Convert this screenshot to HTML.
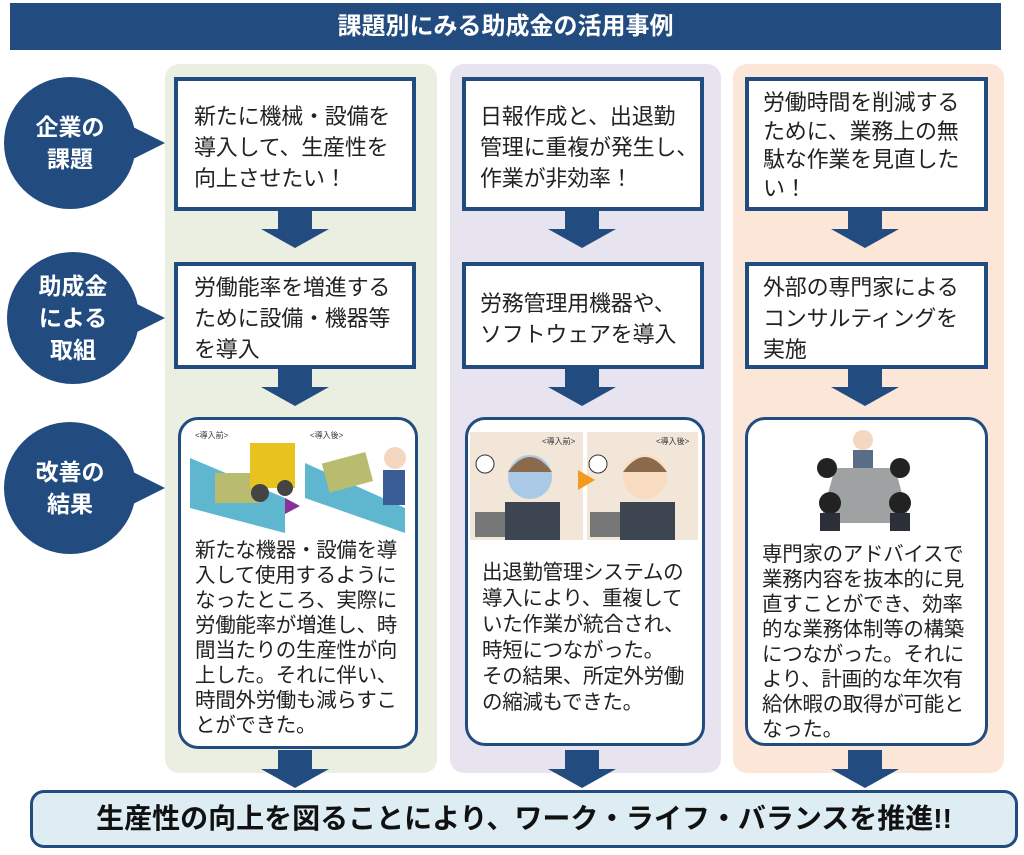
<!DOCTYPE html>
<html><head><meta charset="utf-8"><style>
*{margin:0;padding:0;box-sizing:border-box}
body{width:1024px;height:855px;background:#fff;position:relative;overflow:hidden;font-family:"Liberation Sans","Noto Sans CJK JP",sans-serif;color:#222}
.a{position:absolute}
.title{left:10px;top:3px;width:991px;height:47px;background:#224b80;color:#fff;font-weight:bold;font-size:24px;text-align:center;line-height:47px}
.col{top:64px;height:709px;border-radius:14px}
.box{border:4px solid #224b80;background:#fff;font-size:22px;line-height:31px;padding:10px 0 0 14px;white-space:nowrap;letter-spacing:-0.2px}
.rbox{border:3px solid #224b80;background:#fff;border-radius:20px;font-size:20.5px;line-height:25px;padding-left:14px;white-space:nowrap;letter-spacing:-0.3px}
.circ{width:132px;height:132px;border-radius:50%;background:#224b80;color:#fff;font-weight:bold;font-size:23px;line-height:32px;text-align:center;display:flex;align-items:center;justify-content:center}
.tail{width:0;height:0;border-top:20px solid transparent;border-bottom:20px solid transparent;border-left:40px solid #224b80}
</style></head><body>
<div class="a title">課題別にみる助成金の活用事例</div>
<div class="a col" style="left:165px;width:272px;background:#ebefe1"></div>
<div class="a col" style="left:450px;width:271px;background:#e7e3ef"></div>
<div class="a col" style="left:733px;width:271px;background:#fbe6d7"></div>

<div class="a tail" style="left:125px;top:123px"></div>
<div class="a circ" style="left:4px;top:77px">企業の<br>課題</div>
<div class="a tail" style="left:125px;top:298px"></div>
<div class="a circ" style="left:7px;top:252px">助成金<br>による<br>取組</div>
<div class="a tail" style="left:125px;top:468px"></div>
<div class="a circ" style="left:4px;top:422px">改善の<br>結果</div>

<svg class="a" style="left:0;top:0" width="1024" height="855">
<g fill="#224b80">
<path id="ar" d="M-17 0h34v19h17l-34 19l-34-19h17z" transform="translate(295,210)"/>
<use href="#ar" transform="translate(0,158)"/>
<use href="#ar" transform="translate(0,540)"/>
<use href="#ar" transform="translate(287,0)"/>
<use href="#ar" transform="translate(287,158)"/>
<use href="#ar" transform="translate(287,540)"/>
<use href="#ar" transform="translate(570,0)"/>
<use href="#ar" transform="translate(570,158)"/>
<use href="#ar" transform="translate(570,540)"/>
</g>
</svg>

<div class="a box" style="left:174px;top:77px;width:242px;height:134px;padding-top:20px;padding-left:16px">新たに機械・設備を<br>導入して、生産性を<br>向上させたい！</div>
<div class="a box" style="left:462px;top:77px;width:242px;height:134px;padding-top:20px">日報作成と、出退勤<br>管理に重複が発生し、<br>作業が非効率！</div>
<div class="a box" style="left:745px;top:77px;width:243px;height:134px;padding-top:8px;line-height:28.5px">労働時間を削減する<br>ために、業務上の無<br>駄な作業を見直した<br>い！</div>

<div class="a box" style="left:174px;top:262px;width:242px;height:107px;padding-top:6px;padding-left:16px">労働能率を増進する<br>ために設備・機器等<br>を導入</div>
<div class="a box" style="left:462px;top:262px;width:242px;height:107px;padding-top:22px">労務管理用機器や、<br>ソフトウェアを導入</div>
<div class="a box" style="left:745px;top:262px;width:243px;height:107px;padding-top:6px">外部の専門家による<br>コンサルティングを<br>実施</div>

<div class="a rbox" style="left:178px;top:417px;width:240px;height:332px;padding-top:118px">新たな機器・設備を導<br>入して使用するように<br>なったところ、実際に<br>労働能率が増進し、時<br>間当たりの生産性が向<br>上した。それに伴い、<br>時間外労働も減らすこ<br>とができた。</div>
<div class="a rbox" style="left:465px;top:417px;width:240px;height:329px;padding-top:140px;line-height:26px">出退勤管理システムの<br>導入により、重複して<br>いた作業が統合され、<br>時短につながった。<br>その結果、所定外労働<br>の縮減もできた。</div>
<div class="a rbox" style="left:745px;top:417px;width:243px;height:329px;padding-top:122px">専門家のアドバイスで<br>業務内容を抜本的に見<br>直すことができ、効率<br>的な業務体制等の構築<br>につながった。それに<br>より、計画的な年次有<br>給休暇の取得が可能と<br>なった。</div>

<svg class="a" style="left:185px;top:428px" width="225" height="105">
<text x="10" y="10" font-size="8" fill="#333">&lt;導入前&gt;</text>
<text x="125" y="10" font-size="8" fill="#333">&lt;導入後&gt;</text>
<polygon points="5,30 100,70 100,105 5,80" fill="#5fb7cf"/>
<polygon points="120,35 220,80 220,105 120,70" fill="#5fb7cf"/>
<rect x="30" y="45" width="45" height="30" fill="#b9bb6f"/>
<rect x="65" y="15" width="45" height="45" fill="#e8c21f"/>
<circle cx="75" cy="65" r="9" fill="#444"/><circle cx="100" cy="60" r="8" fill="#444"/>
<rect x="140" y="30" width="45" height="30" fill="#b9bb6f" transform="rotate(-15 160 45)"/>
<circle cx="210" cy="30" r="11" fill="#f3d7c0"/><rect x="198" y="42" width="22" height="35" fill="#3a5d95"/>
<polygon points="100,70 115,78 100,86" fill="#8b2f9a"/>
</svg>
<svg class="a" style="left:470px;top:432px" width="228" height="108">
<rect x="0" y="0" width="113" height="108" fill="#f2e6d8"/>
<rect x="117" y="0" width="111" height="108" fill="#f2e6d8"/>
<text x="72" y="12" font-size="8" fill="#333">&lt;導入前&gt;</text>
<text x="186" y="12" font-size="8" fill="#333">&lt;導入後&gt;</text>
<circle cx="15" cy="32" r="9" fill="#fff" stroke="#333"/>
<circle cx="128" cy="32" r="9" fill="#fff" stroke="#333"/>
<circle cx="60" cy="45" r="22" fill="#a9c9e6"/><path d="M38 40q22-30 44 0" fill="#8a6a4a"/>
<circle cx="175" cy="45" r="22" fill="#f7dcc2"/><path d="M153 40q22-30 44 0" fill="#8a6a4a"/>
<rect x="35" y="70" width="55" height="38" fill="#3d4550"/><rect x="150" y="70" width="55" height="38" fill="#3d4550"/>
<rect x="5" y="80" width="30" height="25" fill="#777"/><rect x="120" y="80" width="30" height="25" fill="#777"/>
<polygon points="108,38 125,48 108,58" fill="#f39a1e"/>
</svg>
<svg class="a" style="left:815px;top:428px" width="100" height="105">
<polygon points="20,40 80,40 95,95 5,95" fill="#9fa2a3"/>
<circle cx="48" cy="12" r="10" fill="#f3d7c0"/><rect x="38" y="22" width="20" height="18" fill="#5a6d88"/>
<circle cx="12" cy="40" r="10" fill="#222"/><circle cx="85" cy="40" r="10" fill="#222"/>
<circle cx="15" cy="75" r="11" fill="#222"/><circle cx="85" cy="75" r="11" fill="#222"/>
<rect x="5" y="85" width="20" height="18" fill="#2a2f3a"/><rect x="75" y="85" width="20" height="18" fill="#2a2f3a"/>
</svg>

<div class="a" style="left:30px;top:790px;width:988px;height:58px;background:#deedf4;border:3px solid #224b80;border-radius:14px;font-weight:bold;font-size:28px;line-height:52px;text-align:center;color:#111">生産性の向上を図ることにより、ワーク・ライフ・バランスを推進!!</div>
</body></html>
